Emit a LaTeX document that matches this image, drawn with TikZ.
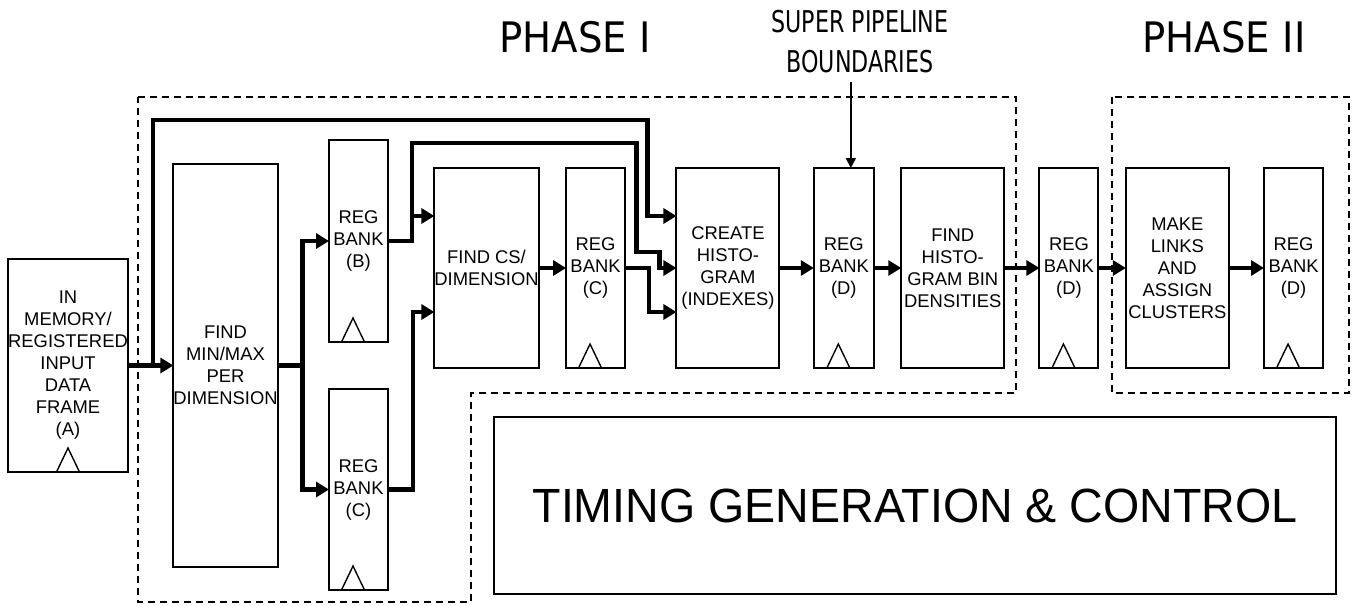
\documentclass[tikz,border=0pt]{standalone}
\usepackage{fontspec}
\setmainfont{Liberation Sans}
\newfontfamily\phfont[FakeStretch=0.92]{DejaVu Sans}
\newfontfamily\spfont[FakeStretch=0.74]{DejaVu Sans}
\newfontfamily\tmfont[FakeStretch=0.97]{Liberation Sans}
\usetikzlibrary{positioning, arrows.meta, calc}
\newcommand{\clk}[2][-2.75pt]{\draw[clkline] ([xshift=#1]#2.south) ++(-11.5,0) -- ++(11.5,-24) -- ++(11.5,24);}
\begin{document}
\begin{tikzpicture}[x=0.5pt, y=-0.5pt,
  blk/.style={draw, line width=1pt, minimum width=51.5pt, minimum height=100pt, inner sep=0pt, outer sep=0pt, align=center, font=\fontsize{9.2}{11}\selectfont},
  reg/.style={blk, minimum width=29.5pt},
  bus/.style={line width=2.25pt, -{Triangle[length=6.5pt, width=7.5pt]}},
  busline/.style={line width=2.25pt},
  phase/.style={line width=0.75pt, dash pattern=on 3.5pt off 2.5pt},
  clkline/.style={line width=0.7pt},
  thinarr/.style={line width=0.75pt, -{Triangle[length=5pt, width=5pt]}}]
\useasboundingbox (0,0) rectangle (1363,605);
% phase outlines and titles
\draw[phase] (138,97) -- (1016,97) -- (1016,393) -- (471,393) -- (471,602) -- (138,602) -- cycle;
\draw[phase] (1112,97) rectangle (1349,393);
\node[font={\phfont\fontsize{21}{25}\selectfont}] (ph1) at (575,37) {PHASE I};
\node[font={\phfont\fontsize{21}{25}\selectfont}] (ph2) at (1224,37) {PHASE II};
\node[font={\spfont\fontsize{15}{20}\selectfont}, align=center] (spb) at (860,42) {SUPER PIPELINE\\BOUNDARIES};
% blocks
\node[blk, minimum width=60pt, minimum height=106.5pt] (inA) at (68,365.5) {IN\\MEMORY/\\REGISTERED\\INPUT\\DATA\\FRAME\\(A)};
\node[blk, minimum height=201.5pt] (minmax) at (225.5,365.5) {FIND\\MIN/MAX\\PER\\DIMENSION};
\node[reg, minimum height=101pt] (regB) at (358.5,241) {REG\\BANK\\(B)};
\node[reg, minimum height=100.5pt] (regCl) at (358.5,489.5) {REG\\BANK\\(C)};
\node[blk] (findcs) at (486.5,268) {FIND CS/\\DIMENSION};
\node[reg, right=13.7pt of findcs] (regCm) {REG\\BANK\\(C)};
\node[blk, right=25.7pt of regCm] (create) {CREATE\\HISTO-\\GRAM\\(INDEXES)};
\node[reg, minimum width=30pt, right=17.2pt of create] (regD1) {REG\\BANK\\(D)};
\node[blk, right=13.7pt of regD1] (findhist) {FIND\\HISTO-\\GRAM BIN\\DENSITIES};
\node[reg, right=17.6pt of findhist] (regD2) {REG\\BANK\\(D)};
\node[blk, right=13.7pt of regD2] (links) {MAKE\\LINKS\\AND\\ASSIGN\\CLUSTERS};
\node[reg, right=17.6pt of links] (regD3) {REG\\BANK\\(D)};
\node[blk, minimum width=421pt, minimum height=88.5pt, font={\tmfont\fontsize{24}{28}\selectfont}] (timing) at (915,505.5) {TIMING GENERATION \& CONTROL};
% clock marks
\clk[0pt]{inA} \clk{regB} \clk{regCl} \clk{regCm} \clk{regD1} \clk{regD2} \clk{regD3}
% buses
\coordinate (tapA) at ($(inA.east)+(25,0)$);
\coordinate (topR) at ($(create.west)+(-29,-148)$);
\coordinate (sp1) at ($(minmax.east)+(25,0)$);
\coordinate (sp2) at ($(regB.east)+(24,0)$);
\coordinate (bB) at ($(create.west)+(-40,-125)$);
\draw[bus] (inA.east) -- (minmax.west);
\draw[bus] (tapA) |- (topR) |- ([yshift=26pt]create.west);
\draw[busline] (minmax.east) -- (sp1);
\draw[bus] (sp1) |- (regB.west);
\draw[bus] (sp1) |- (regCl.west);
\draw[bus] (regB.east) -- (sp2) |- ([yshift=26pt]findcs.west);
\draw[bus] (sp2) |- (bB) -- ++(0,109) -| ([xshift=-8.5pt]create.west) -- (create.west);
\draw[bus] (regCl.east) -- ++(25,0) |- ([yshift=-22pt]findcs.west);
\draw[bus] (findcs.east) -- (regCm.west);
\draw[bus] (regCm.east) -- ++(24,0) |- ([yshift=-22pt]create.west);
\draw[bus] (create.east) -- (regD1.west);
\draw[bus] (regD1.east) -- (findhist.west);
\draw[bus] (findhist.east) -- (regD2.west);
\draw[bus] (regD2.east) -- (links.west);
\draw[bus] (links.east) -- (regD3.west);
% pipeline boundary pointer
\coordinate (spTop) at ($(regD1.north)+(7,-86)$);
\draw[thinarr] (spTop) -- ([xshift=3.5pt]regD1.north);
\end{tikzpicture}
\end{document}
